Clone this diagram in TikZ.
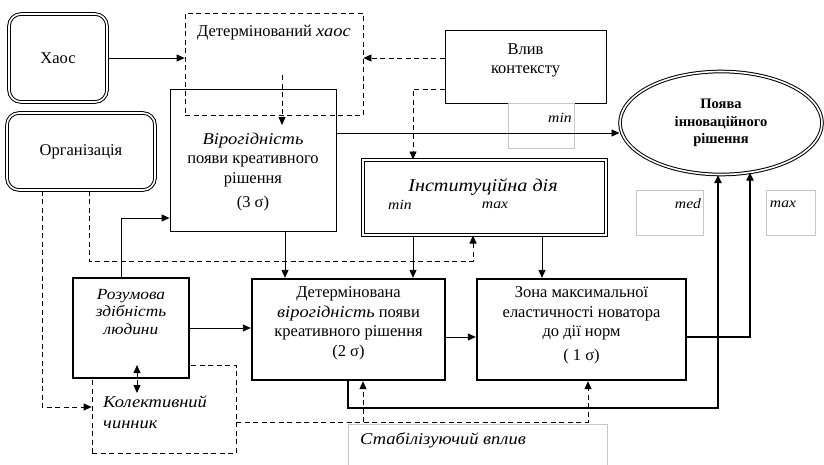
\documentclass[tikz,border=0pt]{standalone}
\usepackage{fontspec}
\setmainfont[ItalicFeatures={FakeStretch=1.12}]{Liberation Serif}
\usetikzlibrary{arrows.meta,shapes.geometric,calc}

\begin{document}
\begin{tikzpicture}[x=1pt,y=-1pt,
  >={Triangle[length=8pt,width=7pt]},
  every node/.style={font=\fontsize{16.5}{19.5}\selectfont,inner sep=0pt},
  box/.style={draw,line width=0.9pt},
  boldbox/.style={draw,line width=2.4pt,fill=white},
  dbox/.style={draw,line width=0.8pt,dash pattern=on 5pt off 3.5pt},
  rbox/.style={draw,double,double distance=1.6pt,line width=1pt,rounded corners=12pt},
  gbox/.style={draw=black!22,line width=0.6pt},
  mintxt/.style={font=\fontsize{14}{16}\selectfont\itshape},
  arr/.style={->,line width=0.9pt},
  darr/.style={arr,line width=0.8pt,dash pattern=on 5pt off 3.5pt},
  barr/.style={arr,line width=2.2pt},
  ]
\useasboundingbox (0,0) rectangle (824,464);

% boxes
\node[rbox,minimum width=98,minimum height=88] (haos) at (58,58) {Хаос};
\node[rbox,minimum width=148,minimum height=77] (org) at (81,151.5) {Організація};
\node[dbox,minimum width=178,minimum height=102] (dhaos) at (274,64) {};
\node[box,minimum width=166,minimum height=142] (virog) at (253,160) {};
\node[box,minimum width=161,minimum height=73] (vplyv) at (525.5,66.5) {};
\node[gbox,minimum width=66,minimum height=45] (minbox) at (541,125.5) {};
\node[ellipse,draw,double,double distance=1.6pt,line width=1pt,
      minimum width=202,minimum height=103,align=center,
      font=\fontsize{14.5}{17.5}\selectfont\bfseries] (poyava) at (721,123)
      {Поява\\інноваційного\\рішення};
\node[gbox,minimum width=67,minimum height=45] (medbox) at (669.5,212.5) {};
\node[gbox,minimum width=49,minimum height=45] (maxbox) at (790.5,212.5) {};
\node[draw,double,double distance=1.6pt,line width=1pt,
      minimum width=243,minimum height=75] (inst) at (484.5,197.5) {};
\node[dbox,minimum width=144,minimum height=88] (kol) at (164,409) {};
\node[boldbox,minimum width=116,minimum height=100] (rozum) at (131,328) {};
\node[boldbox,minimum width=193,minimum height=101] (determ) at (348.5,329.5) {};
\node[boldbox,minimum width=209,minimum height=101] (zona) at (581.5,329.5) {};
\node[gbox,anchor=north west,minimum width=259,minimum height=60] (stab) at (348,424) {};

% texts
\node (dhaos-t) at (274,33) {Детермінований \textit{хаос}};
\node[align=center] (virog-t) at ($(virog.center)+(0,12)$)
  {\textit{Вірогідність}\\появи креативного\\рішення\\[5pt](3 σ)};
\node[align=center] (vplyv-t) at ($(vplyv.center)+(0,-6)$) {Влив\\контексту};
\node[mintxt] (min-t) at (560,118) {min};
\node[mintxt] (med-t) at (688,204) {med};
\node[mintxt] (max-t) at (783,204) {max};
\node[font=\fontsize{18}{20}\selectfont\itshape] (inst-t) at (483,187) {Інституційна дія};
\node[mintxt] (instmin-t) at (400,205) {min};
\node[mintxt] (instmax-t) at (495,205) {max};
\node[align=center,font=\fontsize{15.5}{17.5}\selectfont\itshape] (rozum-t)
  at ($(rozum.center)+(0,-16)$) {Розумова\\здібність\\людини};
\node[align=left,anchor=west,font=\fontsize{16.5}{21}\selectfont\itshape] (kol-t)
  at (103,412.5) {Колективний\\чинник};
\node[align=center] (determ-t) at ($(determ.center)+(0,-6)$)
  {Детермінована\\\textit{вірогідність} появи\\креативного рішення\\(2 σ)};
\node[align=center] (zona-t) at ($(zona.center)+(0,-4)$)
  {Зона максимальної\\еластичності новатора\\до дії норм\\[4pt]( 1 σ)};
\node[anchor=west,font=\fontsize{16.5}{18}\selectfont\itshape] (stab-t) at (360,440) {Стабілізуючий вплив};

% bends
\coordinate (k1) at (413,89);
\coordinate (k2) at (42,407);
\coordinate (k3) at (89,261);
\coordinate (k4) at (473,261);
\coordinate (k5) at (121,218);
\coordinate (k7) at (348,408);
\coordinate (k8) at (588,422);
\coordinate (k9) at (282,75);
\coordinate (k10) at (282,125);
\coordinate (k11) at (137,365);
\coordinate (k12) at (137,393);
\coordinate (xa) at (285,0);
\coordinate (xb) at (542,0);
\coordinate (xd) at (718,0);
\coordinate (xe) at (363,0);
\coordinate (ya) at (0,133);
\coordinate (yc) at (0,337);
\coordinate (e2) at (750,172.5);

% connectors
\draw[arr] (haos) -- (haos -| dhaos.west);
\draw[darr] (vplyv.west |- haos) -- (dhaos.east |- haos);
\draw[darr] (k9) -- (k10);
\draw[arr] (virog.east |- ya) -- (poyava.west |- ya);
\draw[darr] (vplyv.west |- k1) -- (k1) -- (inst.north -| k1);
\draw[darr] (org.south -| k2) -- (k2) -- (kol.west |- k2);
\draw[darr] (org.south -| k3) -- (k3) -- (k4) -- (inst.south -| k4);
\draw[arr] (rozum.north -| k5) -- (k5) -- (virog.west |- k5);
\draw[arr] (rozum.east) -- (rozum.east -| determ.west);
\draw[darr,<->] (k12) -- (k11);
\draw[arr] (virog.south -| xa) -- (determ.north -| xa);
\draw[arr] (inst.south -| k1) -- (determ.north -| k1);
\draw[arr] (inst.south -| xb) -- (zona.north -| xb);
\draw[arr] (determ.east |- yc) -- (zona.west |- yc);
\draw[barr] (zona.east |- yc) -| (e2);
\draw[barr] (determ.south -| k7) -- (k7) -| (poyava.south -| xd);
\draw[darr] (kol.east |- k8) -- (k8) -- (zona.south -| k8);
\draw[darr] (xe |- k8) -- (determ.south -| xe);
\end{tikzpicture}
\end{document}
